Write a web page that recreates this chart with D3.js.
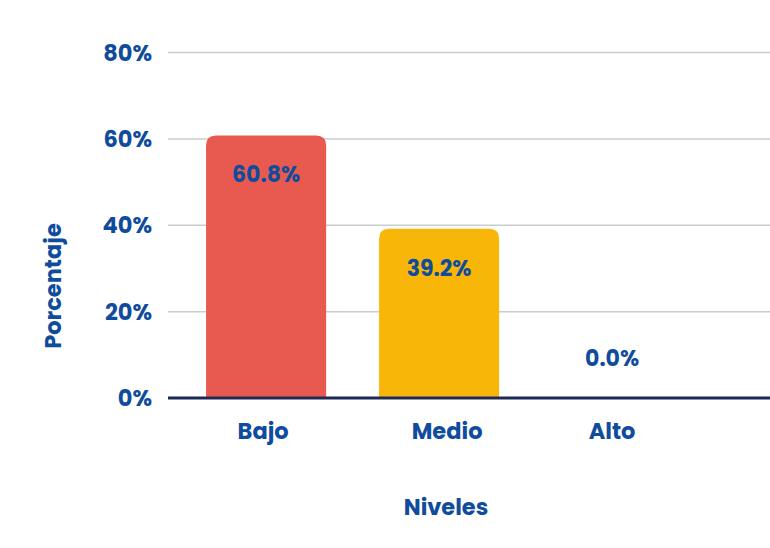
<!DOCTYPE html>
<html><head><meta charset="utf-8">
<script src="https://cdn.jsdelivr.net/npm/d3@7"></script>
<style>
html,body{margin:0;padding:0;background:#fff;}
svg text{font-family:"Poppins","Inter","Noto Sans",sans-serif;font-weight:700;fill:#0f4c9c;}
</style></head>
<body><svg id="chart" width="770" height="548"></svg>
<script>
const categories = ["Bajo", "Medio", "Alto"];
const values = [60.8, 39.2, 0.0];
const barColors = ["#e85a50", "#f8b609", "#f8b609"];
const yTicks = [0, 20, 40, 60, 80];
const xTitle = "Niveles";
const yTitle = "Porcentaje";

(function () {
const svg = d3.select("#chart");
const mLeft = 168, mRight = 770, mTop = 52.5, mBottom = 398;

const x = d3.scaleBand().domain(categories).range([mLeft, mRight])
  .paddingInner(0.306).paddingOuter(0.393).align(0.28);
const y = d3.scaleLinear().domain([0, 80]).range([mBottom, mTop]);

// gridlines
svg.append("g").selectAll("line").data(yTicks.filter(d => d > 0)).join("line")
  .attr("x1", mLeft).attr("x2", mRight)
  .attr("y1", d => y(d)).attr("y2", d => y(d))
  .attr("stroke", "#cccccc").attr("stroke-width", 1.5);

// y tick labels
svg.append("g").selectAll("text").data(yTicks).join("text")
  .attr("x", 152).attr("y", d => y(d)).attr("dy", "0.36em")
  .attr("text-anchor", "end").attr("font-size", 22.5)
  .text(d => d + "%");

// bars with rounded top corners
function barPath(x0, w, yTop, yBot, r) {
  const h = yBot - yTop;
  if (h <= 0) return "";
  r = Math.min(r, h, w / 2);
  return `M${x0},${yBot}V${yTop + r}Q${x0},${yTop} ${x0 + r},${yTop}H${x0 + w - r}Q${x0 + w},${yTop} ${x0 + w},${yTop + r}V${yBot}Z`;
}
svg.append("g").selectAll("path").data(values).join("path")
  .attr("d", (d, i) => barPath(x(categories[i]), x.bandwidth(), y(d), y(0), 10))
  .attr("fill", (d, i) => barColors[i]);

// axis line
svg.append("line").attr("x1", mLeft).attr("x2", mRight)
  .attr("y1", y(0)).attr("y2", y(0))
  .attr("stroke", "#1e2a55").attr("stroke-width", 3);

// value labels
svg.append("g").selectAll("text").data(values).join("text")
  .attr("x", (d, i) => x(categories[i]) + x.bandwidth() / 2)
  .attr("y", d => d > 5 ? y(d) + 39 : y(0) - 40)
  .attr("dy", "0.36em").attr("text-anchor", "middle").attr("font-size", 22)
  .text(d => d.toFixed(1) + "%");

// category labels (small per-label nudges as in the original layout)
const labelNudge = [-3, 8, 0];
svg.append("g").selectAll("text").data(categories).join("text")
  .attr("x", (d, i) => x(d) + x.bandwidth() / 2 + labelNudge[i]).attr("y", 439)
  .attr("text-anchor", "middle").attr("font-size", 22.5)
  .text(d => d);

// axis titles
svg.append("text").attr("x", 446).attr("y", 515)
  .attr("text-anchor", "middle").attr("font-size", 22.5).text(xTitle);
svg.append("text").attr("transform", "translate(61,286) rotate(-90)")
  .attr("text-anchor", "middle").attr("font-size", 22.5).text(yTitle);
})();
</script></body></html>
